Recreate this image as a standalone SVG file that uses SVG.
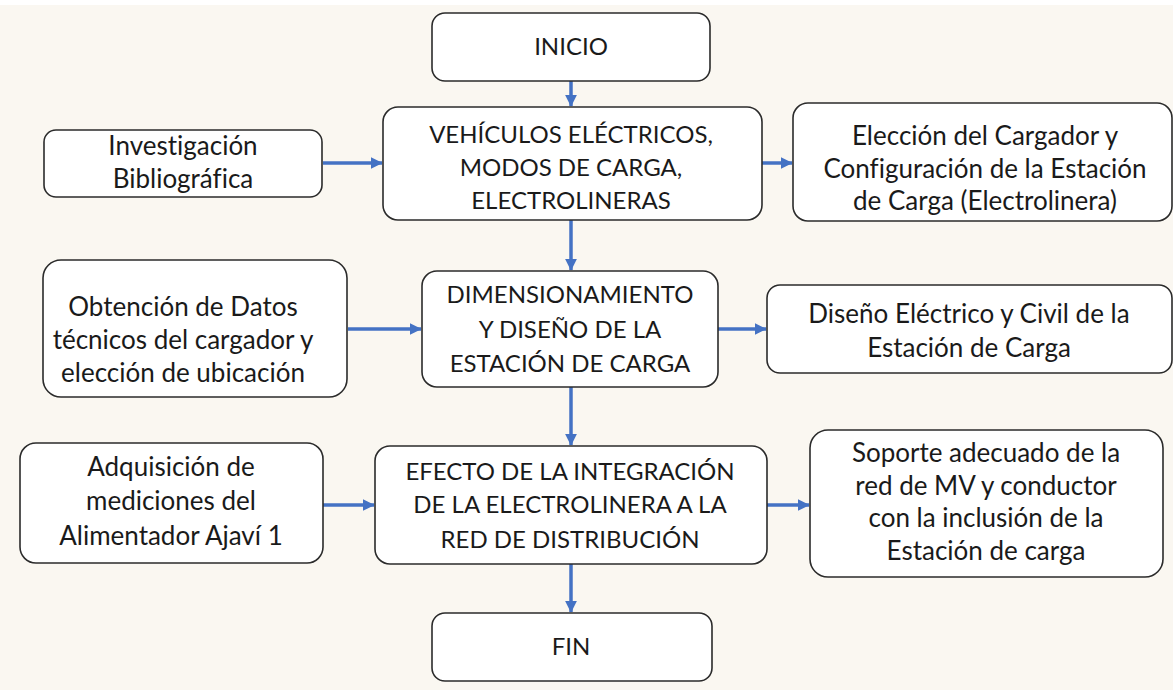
<svg xmlns="http://www.w3.org/2000/svg" width="1173" height="690" viewBox="0 0 1173 690">
<defs>
<style>
.bg{fill:#FAF7F1}
.box{fill:#FFFFFF;stroke:#2b2b2b;stroke-width:1.6}
.t{font-family:Lato,"Open Sans","Liberation Sans",sans-serif;font-size:24px;fill:#1a1a1a;text-anchor:middle;font-variant-ligatures:none}
.l{font-size:26px}
.c{stroke:#4472C4;stroke-width:3.5;fill:none;marker-end:url(#ah)}
</style>
<marker id="ah" markerWidth="4" markerHeight="4" refX="3.2" refY="2" orient="auto" markerUnits="strokeWidth">
<path d="M0,0.3 L3.4,2 L0,3.7 Z" fill="#4472C4"/>
</marker>
</defs>
<rect class="bg" x="0" y="0" width="1173" height="690"/>
<rect x="0" y="0" width="1173" height="5" fill="#FFFFFF"/>

<g id="connectors">
<line class="c" x1="571" y1="81" x2="571" y2="106"/>
<line class="c" x1="323" y1="163" x2="382" y2="163"/>
<line class="c" x1="762" y1="163" x2="792" y2="163"/>
<line class="c" x1="571" y1="220" x2="571" y2="270"/>
<line class="c" x1="348" y1="329" x2="421" y2="329"/>
<line class="c" x1="718" y1="329" x2="766" y2="329"/>
<line class="c" x1="571" y1="387" x2="571" y2="445"/>
<line class="c" x1="323" y1="505" x2="374" y2="505"/>
<line class="c" x1="767" y1="505" x2="809" y2="505"/>
<line class="c" x1="571" y1="564" x2="571" y2="612"/>
</g>

<g id="inicio">
<rect class="box" x="432" y="13" width="278" height="68" rx="13"/>
<text class="t" x="571" y="55">INICIO</text>
</g>
<g id="vehiculos">
<rect class="box" x="383" y="107" width="379" height="113" rx="15"/>
<text class="t" x="571" y="143">VEHÍCULOS ELÉCTRICOS,</text>
<text class="t" x="571" y="176">MODOS DE CARGA,</text>
<text class="t" x="571" y="209">ELECTROLINERAS</text>
</g>
<g id="investigacion">
<rect class="box" x="44" y="130" width="278" height="67" rx="12"/>
<text class="t l" x="183" y="155">Investigación</text>
<text class="t l" x="183" y="188">Bibliográfica</text>
</g>
<g id="eleccion">
<rect class="box" x="793" y="103" width="379" height="118" rx="15"/>
<text class="t l" x="985" y="145">Elección del Cargador y</text>
<text class="t l" x="985" y="178">Configuración de la Estación</text>
<text class="t l" x="985" y="210">de Carga (Electrolinera)</text>
</g>
<g id="dimensionamiento">
<rect class="box" x="422" y="271" width="296" height="116" rx="15"/>
<text class="t" x="570" y="303">DIMENSIONAMIENTO</text>
<text class="t" x="570" y="338">Y DISEÑO DE LA</text>
<text class="t" x="570" y="372">ESTACIÓN DE CARGA</text>
</g>
<g id="obtencion">
<rect class="box" x="43" y="260" width="304" height="137" rx="18"/>
<text class="t l" x="183" y="316">Obtención de Datos</text>
<text class="t l" x="183" y="349">técnicos del cargador y</text>
<text class="t l" x="183" y="382">elección de ubicación</text>
</g>
<g id="diseno">
<rect class="box" x="767" y="285" width="405" height="88" rx="13"/>
<text class="t l" x="969" y="323">Diseño Eléctrico y Civil de la</text>
<text class="t l" x="969" y="357">Estación de Carga</text>
</g>
<g id="efecto">
<rect class="box" x="375" y="446" width="392" height="118" rx="15"/>
<text class="t" x="570" y="480">EFECTO DE LA INTEGRACIÓN</text>
<text class="t" x="570" y="513">DE LA ELECTROLINERA A LA</text>
<text class="t" x="570" y="548">RED DE DISTRIBUCIÓN</text>
</g>
<g id="adquisicion">
<rect class="box" x="20" y="443" width="303" height="120" rx="16"/>
<text class="t l" x="171" y="476">Adquisición de</text>
<text class="t l" x="171" y="510">mediciones del</text>
<text class="t l" x="171" y="545">Alimentador Ajaví 1</text>
</g>
<g id="soporte">
<rect class="box" x="810" y="430" width="353" height="147" rx="18"/>
<text class="t l" x="986" y="462">Soporte adecuado de la</text>
<text class="t l" x="986" y="495">red de MV y conductor</text>
<text class="t l" x="986" y="527">con la inclusión de la</text>
<text class="t l" x="986" y="560">Estación de carga</text>
</g>
<g id="fin">
<rect class="box" x="432" y="613" width="280" height="68" rx="13"/>
<text class="t" x="571" y="655">FIN</text>
</g>
</svg>
